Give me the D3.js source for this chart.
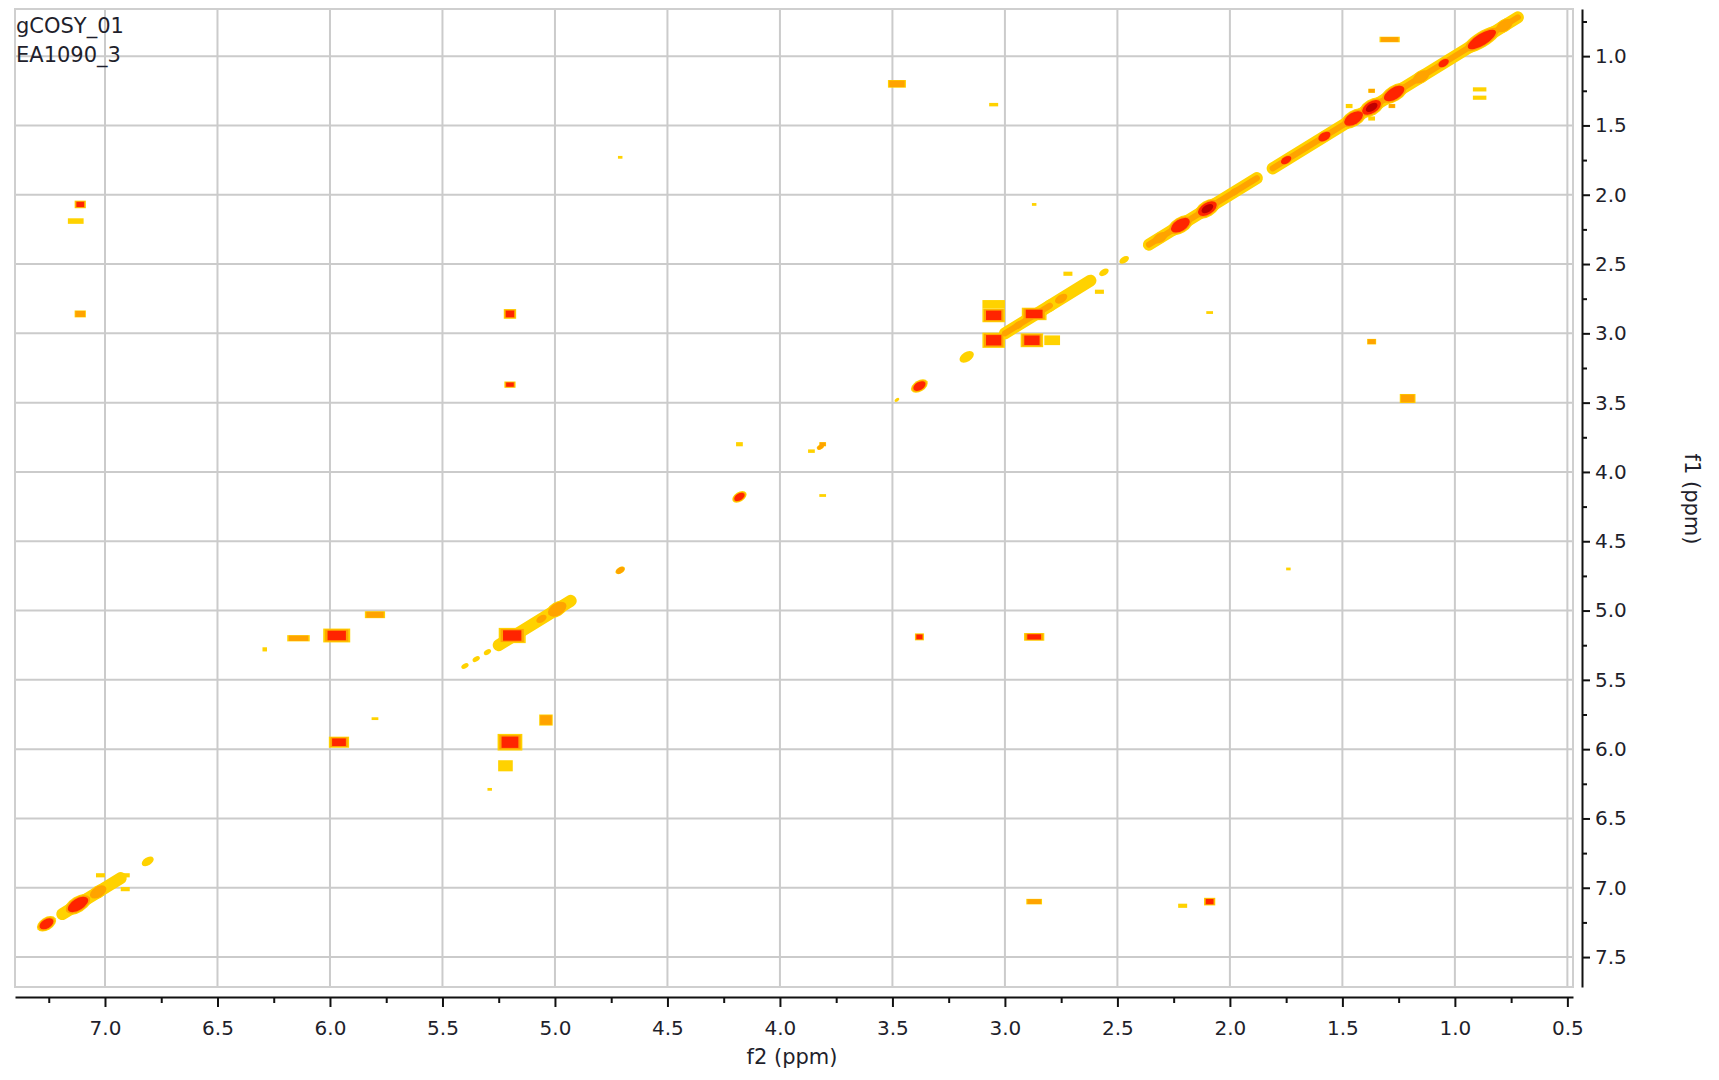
<!DOCTYPE html>
<html>
<head>
<meta charset="utf-8">
<script src="https://cdn.jsdelivr.net/npm/d3@7"></script>
<style>
    html, body { margin: 0; padding: 0; background: #ffffff; }
    svg text { font-family: "DejaVu Sans", "Noto Sans", sans-serif; fill: #1f1f2c; }
</style>
</head>
<body>
<div id="chart"></div>
<script>
// spectrum info and axis titles
const titleLines = ["gCOSY_01", "EA1090_3"];
const xLabel = "f2 (ppm)";
const yLabel = "f1 (ppm)";

// visible ppm window
const f2Domain = [7.4, 0.475];
const f1Domain = [0.66, 7.716];

// tick values
const f2Ticks = [7.0, 6.5, 6.0, 5.5, 5.0, 4.5, 4.0, 3.5, 3.0, 2.5, 2.0, 1.5, 1.0, 0.5];
const f2Minor = [7.25, 6.75, 6.25, 5.75, 5.25, 4.75, 4.25, 3.75, 3.25, 2.75, 2.25, 1.75, 1.25, 0.75];
const f1Ticks = [1.0, 1.5, 2.0, 2.5, 3.0, 3.5, 4.0, 4.5, 5.0, 5.5, 6.0, 6.5, 7.0, 7.5];
const f1Minor = [0.75, 1.25, 1.75, 2.25, 2.75, 3.25, 3.75, 4.25, 4.75, 5.25, 5.75, 6.25, 6.75, 7.25];

// diagonal ridges: [from ppm, to ppm, level]
const diagSegments = [
    [7.19, 6.93, 1],
    [5.25, 4.93, 1],
    [3.00, 2.80, 2],
    [2.80, 2.62, 1],
    [2.36, 1.88, 2],
    [1.81, 0.72, 2]
];

// peaks sitting on the diagonal: [ppm, length in ppm, level]
const diagPeaks = [
    [7.26, 0.08, 3], [7.12, 0.12, 3], [7.03, 0.08, 2], [6.81, 0.05, 1],
    [5.40, 0.03, 1], [5.35, 0.03, 1], [5.30, 0.03, 1], [5.06, 0.05, 2], [4.99, 0.09, 2],
    [4.71, 0.04, 2], [4.18, 0.06, 3], [3.82, 0.03, 2], [3.48, 0.02, 1], [3.38, 0.07, 3],
    [3.17, 0.06, 1], [2.94, 0.05, 2], [2.75, 0.06, 2], [2.56, 0.04, 1], [2.47, 0.04, 1],
    [2.31, 0.07, 2], [2.22, 0.11, 3], [2.10, 0.11, 4], [1.98, 0.05, 2], [1.90, 0.04, 2],
    [1.75, 0.06, 3], [1.66, 0.04, 2], [1.58, 0.07, 3], [1.45, 0.11, 3], [1.37, 0.11, 4],
    [1.27, 0.12, 3], [1.15, 0.08, 2], [1.05, 0.06, 3], [0.88, 0.17, 3], [0.78, 0.08, 2]
];

// cross peaks (and blocky diagonal ones): [f2, f1, width ppm, height ppm, level]
const crossPeaks = [
    [3.48, 1.20, 0.08, 0.055, 2],
    [3.05, 1.35, 0.04, 0.025, 1],
    [4.71, 1.73, 0.02, 0.02, 1],
    [7.11, 2.07, 0.05, 0.055, 3],
    [7.13, 2.19, 0.07, 0.04, 1],
    [7.11, 2.86, 0.05, 0.05, 2],
    [5.20, 2.86, 0.055, 0.07, 3],
    [5.20, 3.37, 0.05, 0.045, 3],
    [3.05, 2.79, 0.10, 0.06, 1],
    [3.05, 2.87, 0.10, 0.10, 3],
    [3.05, 3.05, 0.10, 0.11, 3],
    [2.87, 2.86, 0.11, 0.09, 3],
    [2.88, 3.05, 0.10, 0.10, 3],
    [2.79, 3.05, 0.07, 0.07, 1],
    [2.09, 2.85, 0.03, 0.02, 1],
    [2.87, 2.07, 0.02, 0.02, 1],
    [2.58, 2.70, 0.04, 0.03, 1],
    [2.72, 2.57, 0.04, 0.03, 1],
    [1.37, 3.06, 0.04, 0.04, 2],
    [1.21, 3.47, 0.07, 0.065, 2],
    [1.29, 0.88, 0.09, 0.04, 2],
    [0.89, 1.24, 0.06, 0.03, 1],
    [0.89, 1.30, 0.06, 0.03, 1],
    [1.37, 1.25, 0.03, 0.03, 2],
    [1.28, 1.36, 0.03, 0.03, 2],
    [1.47, 1.36, 0.03, 0.03, 1],
    [1.37, 1.45, 0.03, 0.03, 1],
    [4.18, 3.80, 0.03, 0.03, 1],
    [3.81, 3.80, 0.03, 0.03, 2],
    [3.86, 3.85, 0.03, 0.025, 1],
    [3.81, 4.17, 0.03, 0.02, 1],
    [1.74, 4.70, 0.02, 0.02, 1],
    [6.29, 5.28, 0.02, 0.03, 1],
    [6.14, 5.20, 0.10, 0.045, 2],
    [5.97, 5.18, 0.12, 0.10, 3],
    [5.80, 5.03, 0.09, 0.05, 2],
    [5.19, 5.18, 0.12, 0.11, 3],
    [3.38, 5.19, 0.04, 0.05, 3],
    [2.87, 5.19, 0.09, 0.055, 3],
    [5.80, 5.78, 0.03, 0.02, 1],
    [5.96, 5.95, 0.09, 0.08, 3],
    [5.04, 5.79, 0.06, 0.08, 2],
    [5.20, 5.95, 0.11, 0.12, 3],
    [5.22, 6.12, 0.065, 0.08, 1],
    [5.29, 6.29, 0.02, 0.02, 1],
    [7.02, 6.91, 0.04, 0.03, 1],
    [6.91, 6.91, 0.04, 0.03, 1],
    [6.91, 7.01, 0.04, 0.03, 1],
    [2.87, 7.10, 0.07, 0.04, 2],
    [2.21, 7.13, 0.04, 0.03, 1],
    [2.09, 7.10, 0.05, 0.055, 3]
];

class CosyD3 {
    frame = {left: 15, top: 9, right: 1573, bottom: 987};
    xAxisY = 997;
    yAxisX = 1582;
    // contour level colours, low to high
    levelColors = ["#ffd200", "#ffa300", "#ff2400", "#c00000"];
    rectFrac = [1, 0.86, 0.68, 0.38];
    ellFrac = [1, 0.86, 0.72, 0.45];
    bandWidth = [12, 6];
    svg;
    xScale;
    yScale;

    constructor(el){
        this.el = el;
    };

    create = function (config) {
        this.svg = d3.select(this.el).append("svg")
            .attr("width", config.size.width)
            .attr("height", config.size.height)
        ;
        this.xScale = d3.scaleLinear().domain(f2Domain).range([this.frame.left, this.frame.right]);
        this.yScale = d3.scaleLinear().domain(f1Domain).range([this.frame.top, this.frame.bottom]);
    }

    renderGrid = function () {
        const g = this.svg.append("g").attr("class", "gridG");
        g.selectAll(".vGrid").data(f2Ticks).join("line")
            .attr("class", "vGrid")
            .attr("x1", d => this.xScale(d)).attr("x2", d => this.xScale(d))
            .attr("y1", this.frame.top).attr("y2", this.frame.bottom)
            .attr("stroke", "#cbcbcb").attr("stroke-width", 2)
        ;
        g.selectAll(".hGrid").data(f1Ticks).join("line")
            .attr("class", "hGrid")
            .attr("x1", this.frame.left).attr("x2", this.frame.right)
            .attr("y1", d => this.yScale(d)).attr("y2", d => this.yScale(d))
            .attr("stroke", "#cbcbcb").attr("stroke-width", 2)
        ;
        g.append("rect")
            .attr("x", this.frame.left).attr("y", this.frame.top)
            .attr("width", this.frame.right - this.frame.left)
            .attr("height", this.frame.bottom - this.frame.top)
            .attr("fill", "none").attr("stroke", "#cfcfcf").attr("stroke-width", 2)
        ;
    }

    // one layer per contour level so higher levels always sit on lower ones
    renderPeaks = function () {
        const pxX = Math.abs(this.xScale(1) - this.xScale(0));
        const pxY = Math.abs(this.yScale(1) - this.yScale(0));
        const dx = this.xScale(1) - this.xScale(0);
        const dy = this.yScale(1) - this.yScale(0);
        const angle = Math.atan2(dy, dx) * 180 / Math.PI;
        const pxDiag = Math.sqrt(dx * dx + dy * dy);

        [0, 1, 2, 3].forEach(lv => {
            const layer = this.svg.append("g").attr("class", "levelG" + lv);

            if (lv < 2) {
                layer.selectAll(".seg").data(diagSegments.filter(d => d[2] > lv)).join("line")
                    .attr("class", "seg")
                    .attr("x1", d => this.xScale(d[0])).attr("y1", d => this.yScale(d[0]))
                    .attr("x2", d => this.xScale(d[1])).attr("y2", d => this.yScale(d[1]))
                    .attr("stroke", this.levelColors[lv])
                    .attr("stroke-width", this.bandWidth[lv])
                    .attr("stroke-linecap", "round")
                ;
            }

            layer.selectAll(".dPeak").data(diagPeaks.filter(d => d[2] > lv)).join("ellipse")
                .attr("class", "dPeak")
                .attr("transform", d => "translate(" + this.xScale(d[0]) + "," + this.yScale(d[0]) + ") rotate(" + angle + ")")
                .attr("rx", d => Math.max(2, d[1] * pxDiag / 2) * this.ellFrac[lv])
                .attr("ry", d => Math.min(8, Math.max(1.5, d[1] * pxDiag * 0.3)) * this.ellFrac[lv])
                .attr("fill", this.levelColors[lv])
            ;

            layer.selectAll(".xPeak").data(crossPeaks.filter(d => d[4] > lv)).join("rect")
                .attr("class", "xPeak")
                .attr("x", d => this.xScale(d[0]) - d[2] * pxX / 2 * this.rectFrac[lv])
                .attr("y", d => this.yScale(d[1]) - d[3] * pxY / 2 * this.rectFrac[lv])
                .attr("width", d => d[2] * pxX * this.rectFrac[lv])
                .attr("height", d => d[3] * pxY * this.rectFrac[lv])
                .attr("fill", this.levelColors[lv])
            ;
        });
    }

    renderAxes = function () {
        const fmt = d3.format(".1f");
        this.svg.append("g")
            .attr("class", "xAxisG")
            .attr("transform", "translate(0," + this.xAxisY + ")")
            .call(d3.axisBottom(this.xScale).tickValues(f2Ticks).tickFormat(fmt)
                .tickSize(10).tickSizeOuter(0).tickPadding(14))
        ;
        this.svg.append("g")
            .attr("class", "xMinorG")
            .attr("transform", "translate(0," + this.xAxisY + ")")
            .call(d3.axisBottom(this.xScale).tickValues(f2Minor).tickFormat("")
                .tickSize(6).tickSizeOuter(0))
            .call(g => g.select(".domain").remove())
        ;
        this.svg.append("g")
            .attr("class", "yAxisG")
            .attr("transform", "translate(" + this.yAxisX + ",0)")
            .call(d3.axisRight(this.yScale).tickValues(f1Ticks).tickFormat(fmt)
                .tickSize(8).tickSizeOuter(0).tickPadding(5))
        ;
        this.svg.append("g")
            .attr("class", "yMinorG")
            .attr("transform", "translate(" + this.yAxisX + ",0)")
            .call(d3.axisRight(this.yScale).tickValues(f1Minor).tickFormat("")
                .tickSize(5).tickSizeOuter(0))
            .call(g => g.select(".domain").remove())
        ;
        this.svg.selectAll(".xAxisG path, .xAxisG line, .yAxisG path, .yAxisG line, .xMinorG line, .yMinorG line")
            .attr("stroke", "#111").attr("stroke-width", 2)
        ;
        this.svg.selectAll(".xAxisG text, .yAxisG text")
            .attr("font-size", 20).attr("font-family", null).attr("fill", "#1f1f2c")
        ;

        // axis titles
        this.svg.append("text")
            .attr("x", 792).attr("y", 1064)
            .attr("text-anchor", "middle")
            .attr("font-size", 21)
            .text(xLabel)
        ;
        this.svg.append("text")
            .attr("transform", "translate(1692,499) rotate(90)")
            .attr("text-anchor", "middle")
            .attr("dy", "0.35em")
            .attr("font-size", 21)
            .text(yLabel)
        ;
    }

    renderTitle = function () {
        this.svg.selectAll(".titleText").data(titleLines).join("text")
            .attr("class", "titleText")
            .attr("x", 16)
            .attr("y", (d, i) => 33 + i * 29)
            .attr("font-size", 21)
            .text(d => d)
        ;
    }

    render = function () {
        this.renderGrid();
        this.renderPeaks();
        this.renderAxes();
        this.renderTitle();
    }
}

const chart = new CosyD3(document.getElementById("chart"));
chart.create({size: {width: 1719, height: 1080}});
chart.render();
</script>
</body>
</html>
